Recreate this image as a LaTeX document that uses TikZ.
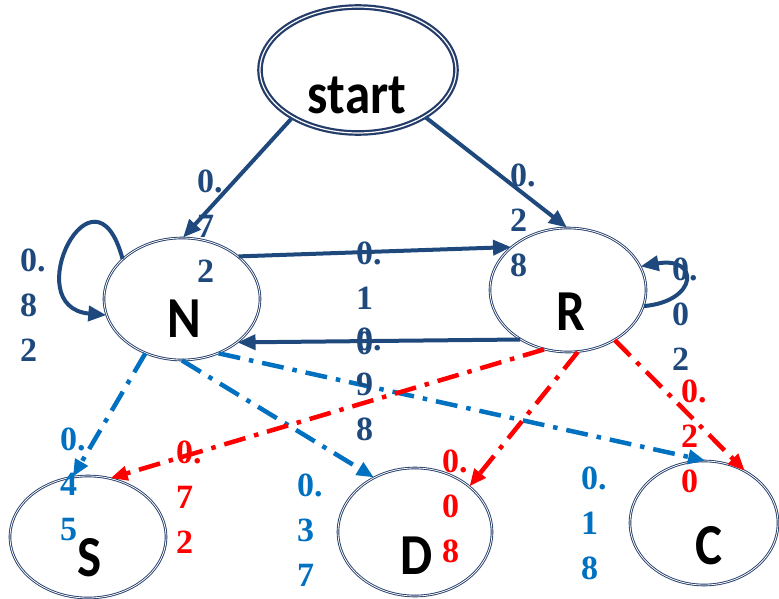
\documentclass[tikz,border=0pt]{standalone}
\usepackage{fontspec}
\setmainfont{Liberation Serif}
\newfontfamily\statefont{Carlito}
\usepackage{graphicx}
\usepackage{tikz}
\usetikzlibrary{shapes.geometric}
\usetikzlibrary{arrows.meta}
\definecolor{navy}{RGB}{31,73,125}
\definecolor{ringcol}{RGB}{35,60,105}
\definecolor{ltblue}{RGB}{0,112,192}
\newcommand{\stname}[1]{\statefont\bfseries\fontsize{58}{58}\selectfont\scalebox{0.88}[1]{#1}}

\begin{document}
\begin{tikzpicture}[x=1pt,y=1pt,
    state/.style={shape=ellipse,draw=ringcol,double=white,double distance=0.8pt,line width=0.9pt,inner sep=0pt},
    prob/.style={font=\bfseries\fontsize{34}{45}\selectfont,align=left,inner sep=0pt,anchor=west},
    navyarr/.style={draw=navy,line width=4pt,-{Triangle[length=18pt,width=15pt]}},
    dotarr/.style={line width=4.5pt,dash pattern=on 22pt off 9pt on 4.5pt off 9pt,-{Triangle[length=17pt,width=14pt]}}]
    \useasboundingbox (0,0) rectangle (779,-599);

    \node[state,line width=2.2pt,double distance=1.2pt,minimum width=196pt,minimum height=126pt] (start) at (358,-70) {};
    \node[state,minimum width=156pt,minimum height=122pt] (N) at (182,-299) {};
    \node[state,minimum width=156pt,minimum height=124pt] (R) at (568,-290) {};
    \node[state,minimum width=156pt,minimum height=122pt] (S) at (88,-537) {};
    \node[state,minimum width=154pt,minimum height=128pt] (D) at (415,-532) {};
    \node[state,minimum width=148pt,minimum height=124pt] (C) at (704,-523) {};

    \node (start_t) at (357,-95) {\stname{start}};
    \node (N_t) at (184,-319) {\stname{N}};
    \node (R_t) at (571,-312) {\stname{R}};
    \node (S_t) at (90,-558) {\stname{S}};
    \node (D_t) at (417,-556) {\stname{D}};
    \node (C_t) at (709,-546) {\stname{C}};

    % transitions out of start, N and R
    \draw[navyarr] (start.216) -- (N.89);
    \draw[navyarr] (start.-35) -- (R.91);
    \draw[navyarr] (N.37) -- (R.143);
    \draw[navyarr] (R.226) -- (N.-38);
    \draw[navyarr] (N.146) .. controls +(105:110) and +(175:90) .. (N.192);
    \draw[navyarr] (R.-12) .. controls +(5:55) and +(10:60) .. (R.18);

    % emissions
    \draw[dotarr,draw=ltblue] (N.236) -- (S.104);
    \draw[dotarr,draw=ltblue] (N.-90) -- (D.127);
    \draw[dotarr,draw=ltblue] (N.-56) -- (C.89);
    \draw[dotarr,draw=red] (R.248) -- (S.69);
    \draw[dotarr,draw=red] (R.-81) -- (D.40);
    \draw[dotarr,draw=red] (R.-47) -- (C.52);

    \node[prob,text=navy] (p_sN) at (197,-226) {0.\\7\\2};
    \node[prob,text=navy] (p_sR) at (510,-220) {0.\\2\\8};
    \node[prob,text=navy] (p_NN) at (20,-305) {0.\\8\\2};
    \node[prob,text=navy] (p_NR) at (356,-298) {0.\\1\\0};
    \node[prob,text=navy] (p_RN) at (356,-384) {0.\\9\\8};
    \node[prob,text=navy] (p_RR) at (672,-314) {0.\\0\\2};
    \node[prob,text=ltblue] (p_NS) at (60,-484) {0.\\4\\5};
    \node[prob,text=ltblue] (p_ND) at (297,-530) {0.\\3\\7};
    \node[prob,text=ltblue] (p_NC) at (581,-523) {0.\\1\\8};
    \node[prob,text=red] (p_RS) at (176,-497) {0.\\7\\2};
    \node[prob,text=red] (p_RD) at (442,-506) {0.\\0\\8};
    \node[prob,text=red] (p_RC) at (681,-436) {0.\\2\\0};
\end{tikzpicture}
\end{document}
